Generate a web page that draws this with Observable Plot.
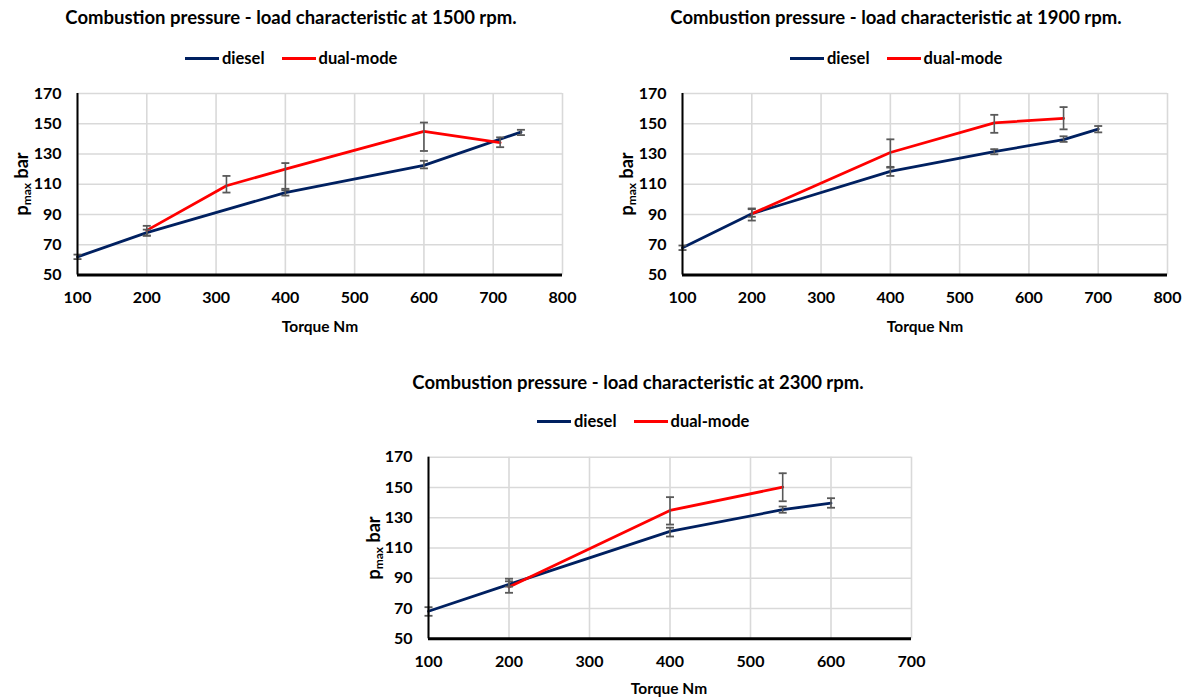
<!DOCTYPE html>
<html>
<head>
<meta charset="utf-8">
<script src="https://cdn.jsdelivr.net/npm/d3@7"></script>
<script src="https://cdn.jsdelivr.net/npm/@observablehq/plot@0.6"></script>
<style>
  html, body { margin: 0; padding: 0; background: #fff; }
  #root { position: relative; width: 1188px; height: 697px; overflow: hidden; font-family: Lato, "Open Sans", sans-serif; color: #000; }
  .title { position: absolute; font-weight: bold; font-size: 18.5px; white-space: nowrap; transform: translate(-50%, -50%); }
  .legend { position: absolute; display: flex; align-items: center; font-weight: bold; font-size: 16.5px; transform: translateY(-50%); white-space: nowrap; }
  .legend .sw { display: inline-block; width: 34px; height: 3px; margin-right: 3px; }
  .legend .item { display: flex; align-items: center; margin-right: 17px; }
  .xtitle { position: absolute; font-weight: bold; font-size: 15.5px; white-space: nowrap; transform: translate(-50%, -50%); }
  .ytitle { position: absolute; font-weight: bold; font-size: 18px; white-space: nowrap; transform: translate(-50%, -50%) rotate(-90deg); }
  .ytitle sub { font-size: 12px; vertical-align: -3px; }
  .chart { position: absolute; }
</style>
</head>
<body>
<div id="root"></div>
<script>
// ---- Data ----
const seriesNames = ["diesel", "dual-mode"];
const seriesColors = ["#002060", "#ff0000"];
const yTicks = [50, 70, 90, 110, 130, 150, 170];
const xTicks1500 = [100, 200, 300, 400, 500, 600, 700, 800];
const xTicks1900 = [100, 200, 300, 400, 500, 600, 700, 800];
const xTicks2300 = [100, 200, 300, 400, 500, 600, 700];

// 1500 rpm
const torque1500Diesel = [100, 200, 400, 600, 740];
const pmax1500Diesel = [62, 78, 104.5, 122.5, 144.5];
const low1500Diesel = [60.5, 76, 102.5, 120.5, 142.5];
const high1500Diesel = [63.5, 80, 107, 125.5, 146];
const torque1500Dual = [200, 315, 400, 600, 710];
const pmax1500Dual = [79.5, 109, 120, 145, 137.5];
const low1500Dual = [76, 104.5, 106, 132, 134.5];
const high1500Dual = [82.5, 115.5, 124, 150.8, 141];

// 1900 rpm
const torque1900Diesel = [100, 200, 400, 550, 650, 700];
const pmax1900Diesel = [68, 90.5, 118.5, 131.5, 139.5, 146.5];
const low1900Diesel = [66.5, 88.5, 115.5, 129.8, 138, 144.3];
const high1900Diesel = [69.5, 94, 121, 133.2, 141.7, 148.5];
const torque1900Dual = [200, 400, 550, 650];
const pmax1900Dual = [90.5, 131, 150.6, 153.5];
const low1900Dual = [86, 121.5, 144, 146.3];
const high1900Dual = [93.5, 139.7, 155.9, 161];

// 2300 rpm
const torque2300Diesel = [100, 200, 400, 540, 600];
const pmax2300Diesel = [68.2, 86, 121, 135.3, 139.6];
const low2300Diesel = [65.2, 84.5, 117.6, 133.3, 136.6];
const high2300Diesel = [70.9, 89.7, 123.4, 137.4, 142.9];
const torque2300Dual = [200, 400, 540];
const pmax2300Dual = [84.2, 134.8, 150.2];
const low2300Dual = [80.4, 125.5, 140.9];
const high2300Dual = [88, 143.6, 159.4];

const titles = [
  "Combustion pressure - load characteristic at 1500 rpm.",
  "Combustion pressure - load characteristic at 1900 rpm.",
  "Combustion pressure - load characteristic at 2300 rpm."
];
const xTitle = "Torque Nm";

// ---- Helpers ----
function rowsOf(name, xs, ys, lo, hi) {
  return xs.map((x, i) => ({series: name, torque: x, pmax: ys[i], lo: lo[i], hi: hi[i]}));
}
const capSymbol = {
  draw(ctx, size) {
    const r = Math.sqrt(size / Math.PI);
    ctx.moveTo(-r, 0);
    ctx.lineTo(r, 0);
  }
};

function makePlot(xTicks, rows, box) {
  return Plot.plot({
    width: box.width,
    height: box.height,
    marginLeft: box.ml,
    marginRight: box.mr,
    marginTop: box.mt,
    marginBottom: box.mb,
    style: {fontFamily: "Lato, 'Open Sans', sans-serif", fontSize: "16px", fontWeight: "bold", color: "#000", background: "transparent", overflow: "visible"},
    x: {domain: [xTicks[0], xTicks[xTicks.length - 1]], ticks: xTicks, tickSize: 0, tickPadding: 17, label: null, tickFormat: d => String(d)},
    y: {domain: [yTicks[0], yTicks[yTicks.length - 1]], ticks: yTicks, tickSize: 0, tickPadding: 16, label: null, tickFormat: d => String(d)},
    color: {domain: seriesNames, range: seriesColors},
    marks: [
      Plot.gridX(xTicks, {stroke: "#d9d9d9", strokeOpacity: 1, strokeWidth: 1.6}),
      Plot.gridY(yTicks, {stroke: "#d9d9d9", strokeOpacity: 1, strokeWidth: 1.6}),
      Plot.line(rows, {x: "torque", y: "pmax", z: "series", stroke: "series", strokeWidth: 2.8}),
      Plot.ruleX(rows, {x: "torque", y1: "lo", y2: "hi", stroke: "#595959", strokeWidth: 1.6}),
      Plot.dot(rows, {x: "torque", y: "lo", symbol: capSymbol, r: 4, stroke: "#595959", fill: "none", strokeWidth: 1.8}),
      Plot.dot(rows, {x: "torque", y: "hi", symbol: capSymbol, r: 4, stroke: "#595959", fill: "none", strokeWidth: 1.8}),
      Plot.ruleX([xTicks[0]], {stroke: "#000", strokeWidth: 2}),
      Plot.ruleY([yTicks[0]], {stroke: "#000", strokeWidth: 3})
    ]
  });
}

const root = document.getElementById("root");
function addDiv(cls, html, x, y) {
  const d = document.createElement("div");
  d.className = cls;
  d.innerHTML = html;
  d.style.left = x + "px";
  d.style.top = y + "px";
  root.appendChild(d);
  return d;
}
function addLegend(x, y) {
  const d = document.createElement("div");
  d.className = "legend";
  d.style.left = x + "px";
  d.style.top = y + "px";
  seriesNames.forEach((n, i) => {
    const it = document.createElement("span");
    it.className = "item";
    const sw = document.createElement("span");
    sw.className = "sw";
    sw.style.background = seriesColors[i];
    it.appendChild(sw);
    it.appendChild(document.createTextNode(n));
    d.appendChild(it);
  });
  root.appendChild(d);
}
function addChart(svg, x, y) {
  svg.classList.add("chart");
  svg.style.left = x + "px";
  svg.style.top = y + "px";
  root.appendChild(svg);
}

const ylab = "p<sub>max</sub> bar";

// Chart 1: 1500 rpm
const rows1500 = rowsOf(seriesNames[0], torque1500Diesel, pmax1500Diesel, low1500Diesel, high1500Diesel)
  .concat(rowsOf(seriesNames[1], torque1500Dual, pmax1500Dual, low1500Dual, high1500Dual));
addChart(makePlot(xTicks1500, rows1500, {width: 590, height: 262, ml: 77, mr: 28, mt: 13, mb: 67.5}), 0, 80);
addDiv("title", titles[0], 291, 17);
addLegend(185, 58);
addDiv("xtitle", xTitle, 320, 326);
addDiv("ytitle", ylab, 22, 184);

// Chart 2: 1900 rpm
const rows1900 = rowsOf(seriesNames[0], torque1900Diesel, pmax1900Diesel, low1900Diesel, high1900Diesel)
  .concat(rowsOf(seriesNames[1], torque1900Dual, pmax1900Dual, low1900Dual, high1900Dual));
addChart(makePlot(xTicks1900, rows1900, {width: 590, height: 262, ml: 77, mr: 28, mt: 13, mb: 67.5}), 605, 80);
addDiv("title", titles[1], 896, 17);
addLegend(790, 58);
addDiv("xtitle", xTitle, 925, 326);
addDiv("ytitle", ylab, 627, 184);

// Chart 3: 2300 rpm
const rows2300 = rowsOf(seriesNames[0], torque2300Diesel, pmax2300Diesel, low2300Diesel, high2300Diesel)
  .concat(rowsOf(seriesNames[1], torque2300Dual, pmax2300Dual, low2300Dual, high2300Dual));
addChart(makePlot(xTicks2300, rows2300, {width: 600, height: 254, ml: 78, mr: 39, mt: 13.7, mb: 58.7}), 350, 443);
addDiv("title", titles[2], 638, 382);
addLegend(537, 421);
addDiv("xtitle", xTitle, 669, 688);
addDiv("ytitle", ylab, 374, 548);
</script>
</body>
</html>
